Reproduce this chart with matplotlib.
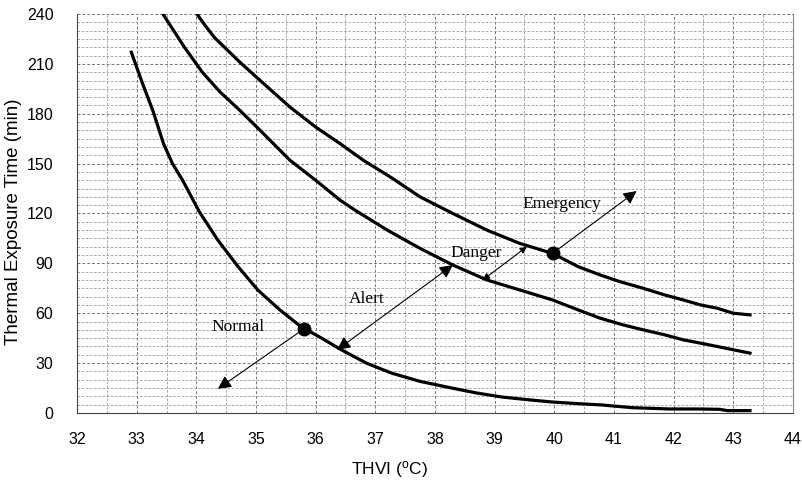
import numpy as np
import matplotlib
matplotlib.use('Agg')
from matplotlib import pyplot as plt

# curves (THVI in degC, exposure time in min)
normal_x = [32.91, 33.10, 33.27, 33.45, 33.60, 33.77, 34.05, 34.36, 34.70, 35.03, 35.40, 35.75, 36.10, 36.43, 36.85, 37.27, 37.75, 38.28, 38.70, 39.12, 39.55, 39.96, 40.40, 40.80, 41.30, 41.93, 42.40, 42.77, 42.90, 43.28]
normal_y = [217, 198, 182, 162, 150, 140, 121, 104, 88, 74, 62, 52, 45, 38, 30, 24, 19, 15, 12, 9.6, 8, 6.6, 5.6, 4.8, 3.2, 2.4, 2.4, 2.2, 1.4, 1.4]

danger_x = [33.44, 33.80, 34.10, 34.40, 34.73, 35.07, 35.57, 36.00, 36.41, 36.66, 37.20, 37.75, 38.30, 38.87, 39.42, 39.97, 40.40, 40.77, 41.15, 41.49, 41.85, 42.16, 42.45, 42.73, 43.00, 43.28]
danger_y = [240, 220, 205, 193, 182, 170, 152, 140, 128, 122, 110, 99, 89, 80, 74, 68, 62, 57, 53, 50, 47, 44, 42, 40, 38, 36]

emerg_x = [34.01, 34.15, 34.30, 34.50, 34.73, 35.07, 35.57, 36.00, 36.41, 36.80, 37.25, 37.75, 38.08, 38.30, 38.87, 39.42, 39.97, 40.40, 40.77, 41.10, 41.49, 41.85, 42.16, 42.45, 42.73, 43.00, 43.28]
emerg_y = [240, 233, 226, 219, 211, 200, 184, 172, 162, 152, 142, 130, 124, 120, 110, 102, 96, 88, 83, 79, 75, 71, 68, 65, 63, 60, 59]

dots_x = [35.80, 39.97]
dots_y = [50.5, 96]

xticks = list(range(32, 45))
yticks = list(range(0, 241, 30))

serif = ['Liberation Serif', 'DejaVu Serif']
sans = ['Liberation Sans', 'DejaVu Sans']
plt.rcParams['font.family'] = sans
plt.rcParams['mathtext.default'] = 'regular'

fig = plt.figure(figsize=(8.03, 4.83), dpi=100)
ax = fig.add_axes([0.0959, 0.145, 0.8916, 0.826])

ax.plot(normal_x, normal_y, color='black', lw=2.3, solid_joinstyle='round')
ax.plot(danger_x, danger_y, color='black', lw=2.3, solid_joinstyle='round')
ax.plot(emerg_x, emerg_y, color='black', lw=2.3, solid_joinstyle='round')
ax.plot(dots_x, dots_y, 'o', color='black', ms=9, zorder=5)

big = dict(arrowstyle='-|>', color='black', lw=0.8, mutation_scale=20, shrinkA=0, shrinkB=0)
both_big = dict(arrowstyle='<|-|>', color='black', lw=0.8, mutation_scale=20, shrinkA=0, shrinkB=0)
both_small = dict(arrowstyle='<|-|>', color='black', lw=0.8, mutation_scale=10, shrinkA=0, shrinkB=0)

ax.annotate('', xy=(34.36, 14.5), xytext=(35.80, 50.5), arrowprops=big)
ax.annotate('', xy=(36.36, 38), xytext=(38.30, 89), arrowprops=both_big)
ax.annotate('', xy=(38.80, 80), xytext=(39.54, 100), arrowprops=both_small)
ax.annotate('', xy=(41.38, 133.5), xytext=(39.97, 96), arrowprops=big)

ax.text(34.70, 52, 'Normal', family=serif, fontsize=12.5, ha='center', va='center')
ax.text(36.86, 68.5, 'Alert', family=serif, fontsize=12.5, ha='center', va='center')
ax.text(38.69, 96.5, 'Danger', family=serif, fontsize=12.5, ha='center', va='center')
ax.text(40.13, 126, 'Emergency', family=serif, fontsize=12.5, ha='center', va='center')

ax.set_xlim(32, 44)
ax.set_ylim(0, 240)
ax.set_xticks(xticks)
ax.set_yticks(yticks)
ax.set_xticks(np.arange(32, 44.01, 0.5), minor=True)
ax.set_yticks(np.arange(0, 240.1, 5), minor=True)
ax.tick_params(which='both', length=0, labelsize=11.5)
ax.tick_params(axis='x', pad=14)
ax.tick_params(axis='y', pad=17)
ax.grid(which='major', color='#777777', ls=(0, (3, 2)), lw=0.7)
ax.grid(which='minor', color='#9a9a9a', ls=(0, (3, 2)), lw=0.6)
ax.set_axisbelow(True)

ax.spines['top'].set_visible(False)
ax.spines['right'].set_color('#888888')
ax.spines['left'].set_color('#444444')
ax.spines['bottom'].set_color('#444444')

ax.set_xlabel('THVI ($^{o}$C)', fontsize=12.5)
ax.xaxis.set_label_coords(0.437, -0.115)
ax.set_ylabel('Thermal Exposure Time (min)', fontsize=13.5)
ax.yaxis.set_label_coords(-0.077, 0.48)

plt.savefig('out.png', dpi=100)
